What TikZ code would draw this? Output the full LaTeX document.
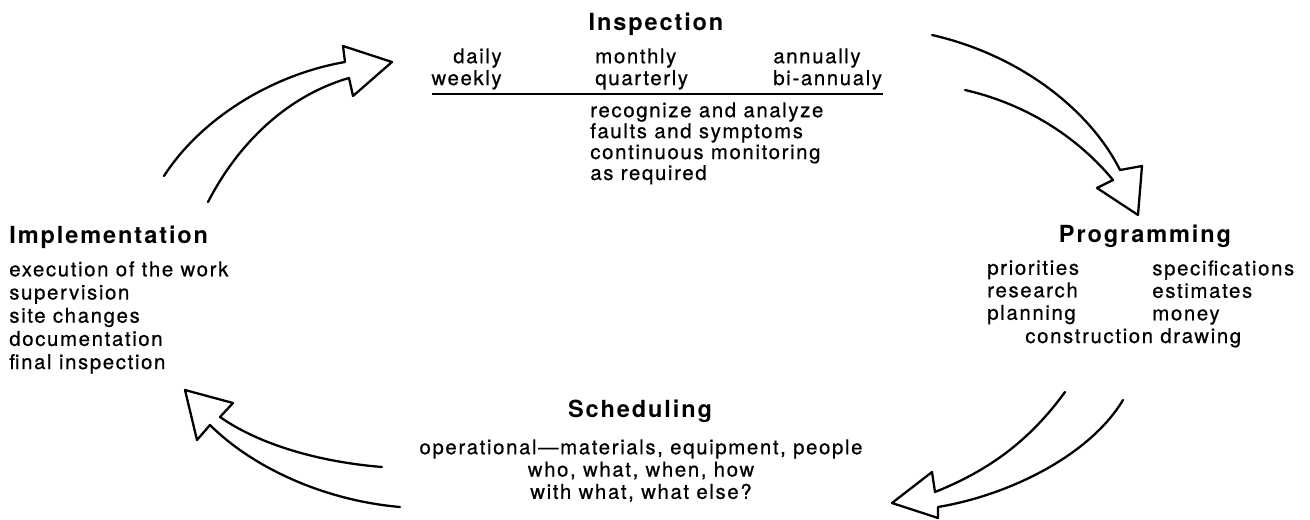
\documentclass[tikz,border=0pt]{standalone}
\usepackage{fontspec}
\setmainfont{TeX Gyre Heros}[LetterSpace=8, UprightFeatures={FakeBold=0.6}]
\usepackage{tikz}

\begin{document}
\begin{tikzpicture}[x=0.2mm, y=-0.2mm,
    title/.style={font=\bfseries\fontsize{13.4}{14}\selectfont, inner sep=0pt},
    body/.style={font=\fontsize{11.6}{12.7}\selectfont, inner sep=0pt},
    tight/.style={body, font=\fontsize{11.6}{11.9}\selectfont},
    hollow/.style={line width=1.3pt, line join=round, line cap=round}]
    \useasboundingbox (0,0) rectangle (1310,520);

    \coordinate (R1) at (432,94);
    \coordinate (R2) at (883,94);

    \node[title, anchor=base] (insp) at (656,30) {Inspection};
    \node[body, anchor=north east, align=right, font=\fontsize{11.6}{12.45}\selectfont] (inspA) at (502,48) {daily\\weekly};
    \node[body, anchor=north west, align=left, font=\fontsize{11.6}{12.45}\selectfont] (inspB) at (595,48) {monthly\\quarterly};
    \node[body, anchor=north west, align=left, font=\fontsize{11.6}{12.45}\selectfont] (inspC) at (773,48) {annually\\bi-annualy};
    \draw[line width=0.9pt] (R1) -- (R2);
    \node[tight, anchor=north west, align=left] (inspD) at (590,102)
        {recognize and analyze\\faults and symptoms\\continuous monitoring\\as required};

    \node[title, anchor=base] (prog) at (1145,242) {Programming};
    \node[body, anchor=north west, align=left, font=\fontsize{11.6}{12.8}\selectfont] (progA) at (987,260) {priorities\\research\\planning};
    \node[body, anchor=north west, align=left, font=\fontsize{11.6}{12.8}\selectfont] (progB) at (1152,260) {specifications\\estimates\\money};
    \node[body, anchor=base west] (progC) at (1025,343) {construction drawing};

    \node[title, anchor=base] (sched) at (640,417) {Scheduling};
    \node[body, anchor=north, align=center] (schedA) at (641,439)
        {operational---materials, equipment, people\\who, what, when, how\\with what, what else?};

    \node[title, anchor=base west] (impl) at (9,243) {Implementation};
    \node[body, anchor=north west, align=left, font=\fontsize{11.6}{13.2}\selectfont] (implA) at (9,261)
        {execution of the work\\supervision\\site changes\\documentation\\final inspection};

    \draw[hollow] (164,176) .. controls (200,120) and (270,75) .. (345,62) -- (343,46) -- (392,62)
        -- (353,96) -- (349,78) .. controls (290,95) and (240,140) .. (208,202);
    \draw[hollow] (932,35) .. controls (1020,55) and (1090,110) .. (1120,170) -- (1142,166) -- (1138,215)
        -- (1097,188) -- (1113,180) .. controls (1080,140) and (1030,105) .. (965,90);
    \draw[hollow] (1065,392) .. controls (1030,440) and (990,470) .. (935,492) -- (932,472) -- (892,503)
        -- (938,518) -- (938,507) .. controls (1010,495) and (1090,455) .. (1123,400);
    \draw[hollow] (382,467) .. controls (320,462) and (260,445) .. (220,417) -- (233,403) -- (185,390)
        -- (197,440) -- (210,425) .. controls (250,465) and (320,500) .. (400,507);
\end{tikzpicture}
\end{document}
